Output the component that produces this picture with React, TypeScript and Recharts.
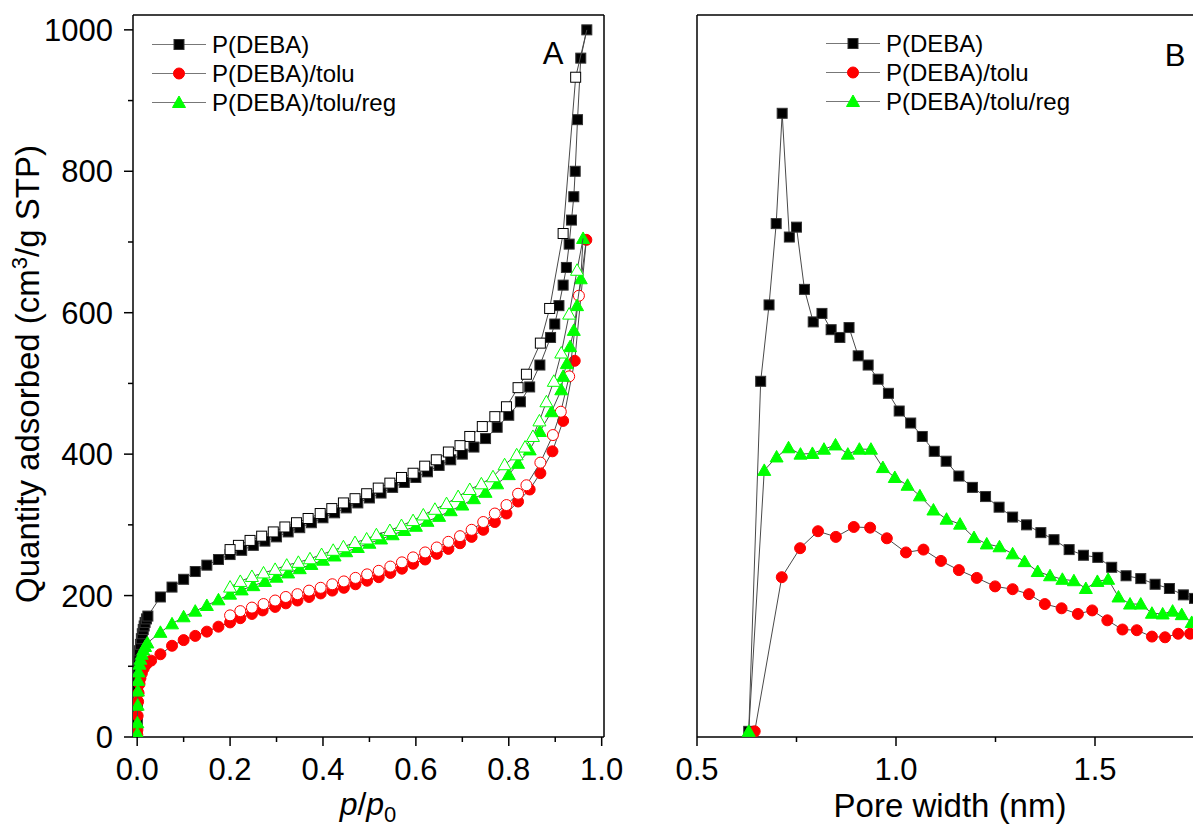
import React from 'react';
import { ScatterChart, Scatter, XAxis, YAxis, ReferenceLine, Legend, Customized } from 'recharts';

const FONT = '"Liberation Sans", Arial, Helvetica, sans-serif';

// ---------- Panel A: isotherms (p/p0, quantity adsorbed) ----------
const debaAds: [number, number][] = [
  [0.0003, 20], [0.0006, 45], [0.001, 70], [0.0015, 85], [0.002, 97], [0.003, 108], [0.004, 116], [0.005, 122],
  [0.007, 131], [0.009, 139], [0.011, 146], [0.013, 152], [0.015, 157], [0.017, 162], [0.02, 167], [0.023, 171],
  [0.05, 198], [0.075, 212], [0.1, 223], [0.125, 234], [0.15, 243], [0.175, 251], [0.2, 258], [0.225, 264],
  [0.25, 271], [0.275, 277], [0.3, 283], [0.325, 290], [0.35, 296], [0.375, 303], [0.4, 310], [0.425, 317],
  [0.45, 324], [0.475, 331], [0.5, 338], [0.525, 345], [0.55, 353], [0.575, 360], [0.6, 367], [0.625, 375],
  [0.65, 384], [0.675, 392], [0.7, 400], [0.725, 410], [0.75, 422], [0.775, 438], [0.8, 455], [0.825, 474],
  [0.845, 495], [0.867, 526], [0.89, 565], [0.899, 584], [0.908, 610], [0.917, 639], [0.924, 664], [0.93, 697],
  [0.935, 731], [0.94, 764], [0.943, 800], [0.948, 873], [0.955, 960], [0.968, 1000],
];
const debaDes: [number, number][] = [
  [0.968, 1000], [0.944, 933], [0.917, 712], [0.888, 606], [0.868, 557], [0.838, 513], [0.82, 494], [0.795, 467],
  [0.77, 453], [0.743, 439], [0.716, 425], [0.695, 412], [0.67, 403], [0.644, 392], [0.619, 383], [0.594, 373],
  [0.569, 367], [0.544, 359], [0.519, 352], [0.494, 344], [0.469, 337], [0.444, 331], [0.419, 323], [0.394, 316],
  [0.368, 309], [0.343, 303], [0.318, 297], [0.293, 290], [0.268, 284], [0.243, 278], [0.218, 271], [0.2, 265],
];
const toluAds: [number, number][] = [
  [0.0003, 3], [0.0005, 10], [0.001, 30], [0.002, 50], [0.003, 62], [0.005, 75], [0.007, 83], [0.01, 90],
  [0.014, 97], [0.02, 103], [0.03, 108], [0.05, 117], [0.075, 129], [0.1, 137], [0.125, 143], [0.15, 149],
  [0.175, 156], [0.2, 162], [0.222, 168], [0.247, 174], [0.27, 179], [0.297, 184], [0.32, 189], [0.345, 193],
  [0.37, 198], [0.395, 203], [0.42, 207], [0.445, 211], [0.47, 216], [0.495, 221], [0.52, 226], [0.545, 232],
  [0.57, 238], [0.594, 245], [0.62, 251], [0.645, 259], [0.67, 266], [0.695, 274], [0.72, 283], [0.745, 293],
  [0.77, 304], [0.795, 316], [0.82, 333], [0.845, 350], [0.868, 373], [0.894, 404], [0.917, 447], [0.942, 532],
  [0.967, 703],
];
const toluDes: [number, number][] = [
  [0.967, 703], [0.951, 624], [0.93, 510], [0.912, 460], [0.895, 427], [0.868, 388], [0.838, 356], [0.82, 344],
  [0.795, 328], [0.77, 316], [0.745, 304], [0.72, 293], [0.695, 284], [0.67, 276], [0.645, 268], [0.62, 261],
  [0.594, 254], [0.57, 247], [0.545, 241], [0.52, 235], [0.495, 230], [0.47, 225], [0.445, 220], [0.42, 216],
  [0.395, 211], [0.37, 207], [0.345, 202], [0.32, 198], [0.297, 193], [0.272, 188], [0.247, 183], [0.222, 178],
  [0.2, 172],
];
const regAds: [number, number][] = [
  [0.0003, 5], [0.0005, 20], [0.001, 45], [0.0015, 65], [0.002, 80], [0.003, 92], [0.005, 103], [0.007, 110],
  [0.01, 117], [0.013, 123], [0.017, 128], [0.022, 133], [0.05, 148], [0.075, 160], [0.1, 170], [0.125, 178],
  [0.15, 186], [0.175, 194], [0.2, 202], [0.225, 208], [0.25, 214], [0.275, 220], [0.3, 226], [0.325, 232],
  [0.35, 238], [0.375, 244], [0.4, 250], [0.425, 256], [0.45, 262], [0.475, 268], [0.5, 274], [0.525, 280],
  [0.55, 286], [0.575, 292], [0.6, 298], [0.625, 305], [0.65, 312], [0.675, 320], [0.7, 328], [0.725, 337],
  [0.75, 346], [0.775, 358], [0.8, 371], [0.82, 387], [0.845, 406], [0.867, 432], [0.892, 460], [0.913, 491],
  [0.917, 510], [0.925, 528], [0.932, 552], [0.94, 575], [0.947, 610], [0.955, 648], [0.96, 705],
];
const regDes: [number, number][] = [
  [0.96, 705], [0.947, 660], [0.93, 598], [0.913, 543], [0.897, 503], [0.881, 474], [0.866, 447], [0.852, 425],
  [0.835, 410], [0.817, 399], [0.791, 385], [0.766, 368], [0.741, 358], [0.716, 350], [0.691, 340], [0.666, 330],
  [0.641, 322], [0.616, 314], [0.594, 306], [0.569, 299], [0.544, 292], [0.515, 286], [0.494, 280], [0.469, 275],
  [0.444, 269], [0.422, 264], [0.397, 258], [0.372, 252], [0.347, 247], [0.322, 243], [0.297, 237], [0.272, 232],
  [0.247, 227], [0.222, 220], [0.2, 212],
];

// ---------- Panel B: pore size distribution (pore width nm, arbitrary intensity) ----------
const debaPsd: [number, number][] = [
  [0.63, 8], [0.66, 503], [0.681, 611], [0.699, 726], [0.714, 882], [0.732, 707], [0.75, 721], [0.77, 633],
  [0.792, 587], [0.814, 599], [0.837, 576], [0.859, 565], [0.882, 579], [0.905, 539], [0.93, 526], [0.955, 506],
  [0.981, 486], [1.008, 461], [1.037, 444], [1.066, 425], [1.096, 404], [1.126, 390], [1.158, 369], [1.192, 353],
  [1.225, 340], [1.259, 325], [1.293, 311], [1.328, 300], [1.364, 289], [1.397, 279], [1.435, 265], [1.471, 257],
  [1.507, 254], [1.542, 240], [1.578, 228], [1.615, 224], [1.651, 216], [1.687, 210], [1.722, 201], [1.75, 196],
];
const toluPsd: [number, number][] = [
  [0.645, 8], [0.713, 226], [0.759, 267], [0.804, 291], [0.849, 283], [0.894, 297], [0.935, 296], [0.977, 281],
  [1.025, 261], [1.069, 265], [1.113, 249], [1.158, 236], [1.203, 225], [1.249, 213], [1.293, 209], [1.334, 202],
  [1.374, 188], [1.416, 182], [1.457, 174], [1.493, 179], [1.531, 165], [1.569, 152], [1.605, 151], [1.643, 142],
  [1.676, 141], [1.709, 146], [1.739, 146],
];
const regPsd: [number, number][] = [
  [0.63, 8], [0.669, 377], [0.7, 396], [0.73, 409], [0.76, 400], [0.79, 401], [0.819, 407], [0.848, 413],
  [0.879, 400], [0.908, 407], [0.937, 407], [0.967, 381], [0.997, 367], [1.029, 356], [1.06, 341], [1.094, 321],
  [1.127, 308], [1.161, 301], [1.196, 282], [1.228, 273], [1.26, 269], [1.293, 259], [1.323, 248], [1.356, 234],
  [1.387, 228], [1.418, 223], [1.447, 221], [1.477, 210], [1.506, 220], [1.533, 223], [1.559, 198], [1.588, 188],
  [1.615, 188], [1.643, 175], [1.67, 174], [1.695, 178], [1.718, 173], [1.743, 162],
];

const seriesNames = ['P(DEBA)', 'P(DEBA)/tolu', 'P(DEBA)/tolu/reg'];
const xTicksA = [0, 0.1, 0.2, 0.3, 0.4, 0.5, 0.6, 0.7, 0.8, 0.9, 1.0];
const yTicksA = [0, 100, 200, 300, 400, 500, 600, 700, 800, 900, 1000];
const xTicksB = [0.5, 0.75, 1.0, 1.25, 1.5, 1.75];

// desorption branches start at the last adsorption point (drawn filled, so its open marker is skipped)
const toPts = (a: [number, number][], skipFirstMarker = false) =>
  a.map(([x, y], i) => ({ x, y, noMarker: skipFirstMarker && i === 0 }));

const BLACK = '#000000';
const RED = '#ff0000';
const GREEN = '#00ff00';
const LINE = { stroke: '#4a4a4a', strokeWidth: 1 };

type Kind = 'square' | 'circle' | 'triangle';
const Marker = ({ cx, cy, kind, color, open }: any) => {
  if (cx == null || cy == null || isNaN(cx) || isNaN(cy)) return null;
  const fill = open ? '#ffffff' : color;
  if (kind === 'square') {
    return <rect x={cx - 5} y={cy - 5} width={10} height={10} fill={fill} stroke={open ? color : '#333'} strokeWidth={1} />;
  }
  if (kind === 'circle') {
    return <circle cx={cx} cy={cy} r={5.5} fill={fill} stroke={color} strokeWidth={1} />;
  }
  return (
    <polygon
      points={`${cx},${cy - 6.5} ${cx + 6.5},${cy + 5} ${cx - 6.5},${cy + 5}`}
      fill={fill}
      stroke={color}
      strokeWidth={1}
    />
  );
};
const shapeOf = (kind: Kind, color: string, open: boolean) => (p: any) => {
  if (p && p.payload && p.payload.noMarker) return <g />;
  return <Marker cx={p.cx} cy={p.cy} kind={kind} color={color} open={open} />;
};

const XTickA = (props: any) => {
  const { x, y, payload } = props;
  const v = payload.value as number;
  const major = Math.round(v * 10) % 2 === 0;
  return (
    <g>
      <line x1={x} x2={x} y1={y} y2={y + (major ? 9 : 5)} stroke="#000" strokeWidth={1.5} />
      {major && (
        <text x={x} y={y + 43} textAnchor="middle" fontSize={31} fontFamily={FONT} fill="#000">
          {v.toFixed(1)}
        </text>
      )}
    </g>
  );
};
const YTickA = (props: any) => {
  const { x, y, payload } = props;
  const v = payload.value as number;
  const major = v % 200 === 0;
  return (
    <g>
      <line x1={x} x2={x - (major ? 9 : 5)} y1={y} y2={y} stroke="#000" strokeWidth={1.5} />
      {major && (
        <text x={x - 20} y={y + 11} textAnchor="end" fontSize={31} fontFamily={FONT} fill="#000">
          {v}
        </text>
      )}
    </g>
  );
};
const XTickB = (props: any) => {
  const { x, y, payload } = props;
  const v = payload.value as number;
  const major = Math.round(v * 100) % 50 === 0;
  return (
    <g>
      <line x1={x} x2={x} y1={y} y2={y + (major ? 9 : 5)} stroke="#000" strokeWidth={1.5} />
      {major && (
        <text x={x} y={y + 43} textAnchor="middle" fontSize={31} fontFamily={FONT} fill="#000">
          {v.toFixed(1)}
        </text>
      )}
    </g>
  );
};

const kinds: Kind[] = ['square', 'circle', 'triangle'];
const colors = [BLACK, RED, GREEN];

const LegendBox = () => (
  <div style={{ fontFamily: FONT, fontSize: 24, color: '#000' }}>
    {seriesNames.map((name, i) => (
      <div key={name} style={{ display: 'flex', alignItems: 'center', height: 29 }}>
        <svg width={60} height={29} style={{ display: 'block' }}>
          <line x1={2} x2={56} y1={14.5} y2={14.5} stroke="#777" strokeWidth={1} />
          <Marker cx={29} cy={14.5} kind={kinds[i]} color={colors[i]} open={false} />
        </svg>
        <span style={{ marginLeft: 2, lineHeight: '29px', whiteSpace: 'nowrap' }}>{name}</span>
      </div>
    ))}
  </div>
);

const TitlesA = () => (
  <g fontFamily={FONT} fill="#000">
    <text transform="translate(39,374) rotate(-90)" textAnchor="middle" fontSize={33}>
      Quantity adsorbed (cm<tspan dy={-12} fontSize={22}>3</tspan>
      <tspan dy={12}>/g STP)</tspan>
    </text>
    <text x={368} y={815} textAnchor="middle" fontSize={32}>
      <tspan fontStyle="italic">p</tspan>/<tspan fontStyle="italic">p</tspan>
      <tspan fontSize={22} dy={7}>0</tspan>
    </text>
    <text x={553} y={64} textAnchor="middle" fontSize={31}>A</text>
  </g>
);
const TitlesB = () => (
  <g fontFamily={FONT} fill="#000">
    <text x={310} y={817} textAnchor="middle" fontSize={33}>Pore width (nm)</text>
    <text x={535} y={66} textAnchor="middle" fontSize={31}>B</text>
  </g>
);

export default function App() {
  const axisLine = { stroke: '#000', strokeWidth: 1.5 };
  return (
    <div style={{ position: 'absolute', left: 0, top: 0, width: 1193, height: 828, overflow: 'hidden', background: '#fff' }}>
      <div style={{ position: 'absolute', left: 0, top: 0 }}>
        <ScatterChart width={660} height={828} margin={{ top: 15, right: 56, left: 73, bottom: 31 }}>
          <XAxis
            dataKey="x"
            type="number"
            domain={[-0.009, 1.005]}
            allowDataOverflow
            ticks={xTicksA}
            interval={0}
            tickSize={0}
            tickMargin={0}
            tickLine={false}
            axisLine={axisLine}
            tick={<XTickA />}
            height={60}
          />
          <YAxis
            dataKey="y"
            type="number"
            domain={[0, 1021]}
            allowDataOverflow
            ticks={yTicksA}
            interval={0}
            tickSize={0}
            tickMargin={0}
            tickLine={false}
            axisLine={axisLine}
            tick={<YTickA />}
            width={60}
          />
          <ReferenceLine y={1021} stroke="#000" strokeWidth={1.5} />
          <ReferenceLine x={1.005} stroke="#000" strokeWidth={1.5} />
          <Scatter name={seriesNames[0]} data={toPts(debaAds)} line={LINE} shape={shapeOf('square', BLACK, false)} isAnimationActive={false} />
          <Scatter name="deba-des" legendType="none" data={toPts(debaDes, true)} line={LINE} shape={shapeOf('square', BLACK, true)} isAnimationActive={false} />
          <Scatter name={seriesNames[1]} data={toPts(toluAds)} line={LINE} shape={shapeOf('circle', RED, false)} isAnimationActive={false} />
          <Scatter name="tolu-des" legendType="none" data={toPts(toluDes, true)} line={LINE} shape={shapeOf('circle', RED, true)} isAnimationActive={false} />
          <Scatter name={seriesNames[2]} data={toPts(regAds)} line={LINE} shape={shapeOf('triangle', GREEN, false)} isAnimationActive={false} />
          <Scatter name="reg-des" legendType="none" data={toPts(regDes, true)} line={LINE} shape={shapeOf('triangle', GREEN, true)} isAnimationActive={false} />
          <Legend
            layout="vertical"
            align="center"
            verticalAlign="middle"
            content={<LegendBox />}
            wrapperStyle={{ left: 150, top: 30, width: 300, height: 90 }}
          />
          <Customized component={TitlesA} />
        </ScatterChart>
      </div>
      <div style={{ position: 'absolute', left: 640, top: 0 }}>
        <ScatterChart width={570} height={828} margin={{ top: 15, right: 15.5, left: 57, bottom: 31 }}>
          <XAxis
            dataKey="x"
            type="number"
            domain={[0.5, 1.75]}
            allowDataOverflow
            ticks={xTicksB}
            interval={0}
            tickSize={0}
            tickMargin={0}
            tickLine={false}
            axisLine={axisLine}
            tick={<XTickB />}
            height={60}
          />
          <YAxis
            dataKey="y"
            type="number"
            domain={[0, 1021]}
            allowDataOverflow
            tick={false}
            tickLine={false}
            axisLine={axisLine}
            width={0}
          />
          <ReferenceLine y={1021} stroke="#000" strokeWidth={1.5} />
          <ReferenceLine x={0.5} stroke="#000" strokeWidth={1.5} />
          <Scatter name={seriesNames[0]} data={toPts(debaPsd)} line={LINE} shape={shapeOf('square', BLACK, false)} isAnimationActive={false} />
          <Scatter name={seriesNames[1]} data={toPts(toluPsd)} line={LINE} shape={shapeOf('circle', RED, false)} isAnimationActive={false} />
          <Scatter name={seriesNames[2]} data={toPts(regPsd)} line={LINE} shape={shapeOf('triangle', GREEN, false)} isAnimationActive={false} />
          <Legend
            layout="vertical"
            align="center"
            verticalAlign="middle"
            content={<LegendBox />}
            wrapperStyle={{ left: 184, top: 29, width: 300, height: 90 }}
          />
          <Customized component={TitlesB} />
        </ScatterChart>
      </div>
    </div>
  );
}
